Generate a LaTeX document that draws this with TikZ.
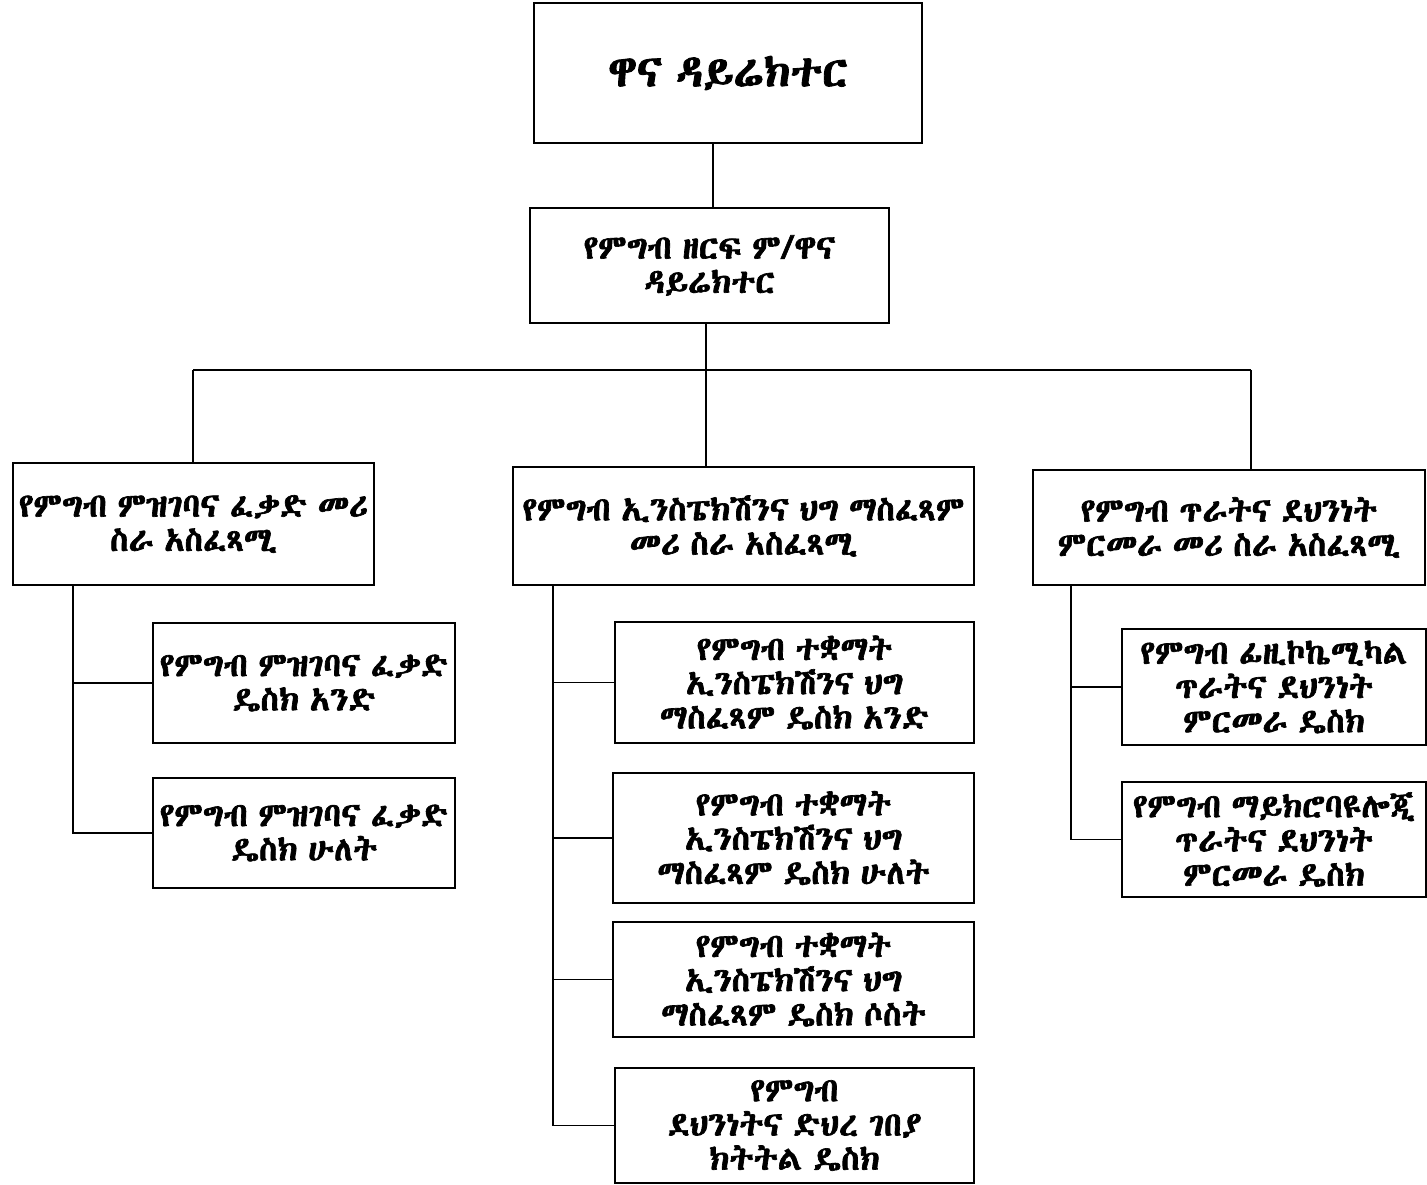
\documentclass[tikz,border=0pt]{standalone}
\usepackage{fontspec}
\IfFontExistsTF{Abyssinica SIL}{\newfontfamily\eth{Abyssinica SIL}[FakeBold=2,WordSpace=0.7]\typeout{ETHFONT=Abyssinica}}{%
 \IfFontExistsTF{FreeSerif}{\newfontfamily\eth{FreeSerif}[FakeBold=2,WordSpace=0.7]\typeout{ETHFONT=FreeSerif}}{%
  \IfFontExistsTF{Noto Sans Ethiopic}{\newfontfamily\eth{Noto Sans Ethiopic}[FakeBold=2,WordSpace=0.7]\typeout{ETHFONT=NotoSansEthiopic}}{%
   \newfontfamily\eth{DejaVu Sans}[FakeBold=2,WordSpace=0.7]\typeout{ETHFONT=DejaVu}}}}
\tikzset{
  x=0.02cm, y=-0.02cm,
  box/.style 2 args={draw, line width=1.1pt, align=center, inner sep=0pt,
    minimum width=#1*0.02cm, minimum height=#2*0.02cm,
    font=\eth\fontsize{19}{19.5}\selectfont},
  conn/.style={line width=1.1pt}
}
\begin{document}
\begin{tikzpicture}
\useasboundingbox (0,0) rectangle (1427,1185);
\node[box={388}{140}, font=\eth\fontsize{25}{28}\selectfont] (b1) at (728,73) {ዋና ዳይሬክተር};
\node[box={359}{115}] (b2) at (709.5,265.5) {የምግብ ዘርፍ ም/ዋና\\ዳይሬክተር};
\node[box={361}{122}] (b3) at (193.5,524) {የምግብ ምዝገባና ፈቃድ መሪ\\ስራ አስፈጻሚ};
\node[box={461}{118}] (b4) at (743.5,526) {የምግብ ኢንስፔክሽንና ህግ ማስፈጻም\\መሪ ስራ አስፈጻሚ};
\node[box={392}{115}] (b5) at (1229,527.5) {የምግብ ጥራትና ደህንነት\\ምርመራ መሪ ስራ አስፈጻሚ};
\node[box={302}{120}] (b6) at (304,683) {የምግብ ምዝገባና ፈቃድ\\ዴስክ አንድ};
\node[box={302}{110}] (b7) at (304,833) {የምግብ ምዝገባና ፈቃድ\\ዴስክ ሁለት};
\node[box={359}{121}] (b8) at (794.5,682.5) {የምግብ ተቋማት\\ኢንስፔክሽንና ህግ\\ማስፈጻም ዴስክ አንድ};
\node[box={361}{130}] (b9) at (793.5,838) {የምግብ ተቋማት\\ኢንስፔክሽንና ህግ\\ማስፈጻም ዴስክ ሁለት};
\node[box={361}{115}] (b10) at (793.5,979.5) {የምግብ ተቋማት\\ኢንስፔክሽንና ህግ\\ማስፈጻም ዴስክ ሶስት};
\node[box={359}{115}] (b11) at (794.5,1125.5) {የምግብ\\ደህንነትና ድህረ ገበያ\\ክትትል ዴስክ};
\node[box={304}{116}] (b12) at (1274,687) {የምግብ ፊዚኮኬሚካል\\ጥራትና ደህንነት\\ምርመራ ዴስክ};
\node[box={304}{115}] (b13) at (1274,839.5) {የምግብ ማይክሮባዩሎጂ\\ጥራትና ደህንነት\\ምርመራ ዴስክ};
\coordinate (hl) at (193,370);
\coordinate (hr) at (1251,370);
\draw[conn] (713,0 |- b1.south) -- (713,0 |- b2.north);
\draw[conn] (706,0 |- b2.south) -- (706,0 |- b4.north);
\draw[conn] (hl) -- (hr);
\draw[conn] (hl) -- (hl |- b3.north);
\draw[conn] (hr) -- (hr |- b5.north);
\coordinate (lt) at (73,0 |- b3.south);
\draw[conn] (lt) -- (lt |- b7.west) -- (b7.west);
\draw[conn] (lt |- b6.west) -- (b6.west);
\coordinate (ct) at (553,0 |- b4.south);
\draw[conn] (ct) -- (ct |- b11.west) -- (b11.west);
\draw[conn] (ct |- b8.west) -- (b8.west);
\draw[conn] (ct |- b9.west) -- (b9.west);
\draw[conn] (ct |- b10.west) -- (b10.west);
\coordinate (rt) at (1071,0 |- b5.south);
\draw[conn] (rt) -- (rt |- b13.west) -- (b13.west);
\draw[conn] (rt |- b12.west) -- (b12.west);
\end{tikzpicture}
\end{document}
